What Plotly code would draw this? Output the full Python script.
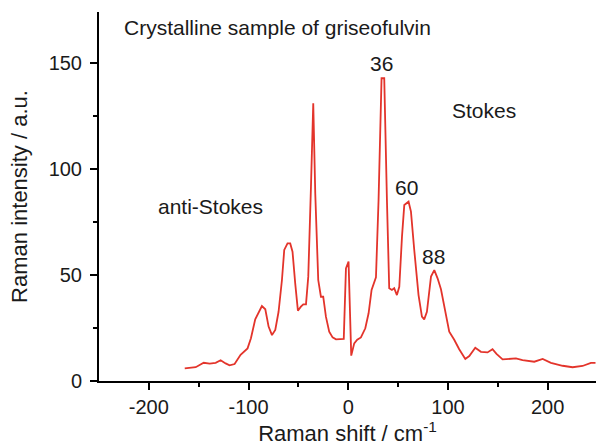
import plotly.graph_objects as go

# Raman shift (cm^-1) and intensity (a.u.)
shift = [-164, -153, -145, -139, -133, -128, -123, -119, -114, -108, -101, -97.6,
         -93.3, -89.3, -86.6, -83.2, -79.9, -76.5, -73.2, -69.9, -66.5, -64.2,
         -60.9, -58.2, -55.9, -53.2, -50.5, -47.5, -45.1, -42.4, -40.1, -37.4,
         -35.1, -33.1, -30.1, -27.4, -25.1, -22.4, -19.1, -15.7, -12.3, -4.5,
         -2.3, 0.3, 3.0, 6.0, 9.0, 12.7, 17.1, 20.4, 23.4, 27.8, 30.4, 33.4,
         36.1, 38.8, 41.1, 43.8, 46.1, 48.8, 51.2, 53.9, 56.2, 60.5, 62.9, 66.2,
         70.5, 73.9, 76.2, 78.9, 83.0, 86.3, 89.6, 93.0, 97.3, 101.3, 106.3,
         111.3, 117.4, 121.4, 127.4, 133.1, 139.7, 144.7, 148.7, 154.8, 168.2,
         174.8, 186.6, 195.0, 203.3, 215.0, 225.0, 235.0, 243.4, 248.0]
intensity = [6.0, 6.5, 8.6, 8.2, 8.6, 9.8, 8.3, 7.4, 8.0, 12.4, 15.4, 20.2,
             29.1, 32.7, 35.4, 33.9, 25.7, 21.7, 24.1, 32.7, 47.7, 61.9,
             65.0, 65.0, 61.1, 46.1, 33.2, 35.1, 36.2, 36.2, 49.3, 91.8,
             131.2, 88.7, 47.7, 39.8, 39.8, 30.4, 23.3, 20.6, 19.7, 19.9,
             53.2, 56.4, 12.0, 17.8, 19.5, 20.6, 24.9, 32.0, 43.0, 49.0, 85.5, 143.0,
             143.0, 85.5, 43.8, 43.0, 43.8, 40.6, 44.5, 68.2, 83.1, 84.7, 80.0, 61.9,
             40.6, 30.4, 29.1, 32.7, 49.3, 52.4, 48.5, 43.3, 32.0, 23.3, 19.5,
             15.0, 10.4, 11.8, 15.7, 13.8, 13.5, 15.0, 12.8, 10.2, 10.7,
             9.9, 9.1, 10.4, 8.6, 7.2, 6.5, 7.1, 8.6, 8.6]

x_tickvals = [-200, -100, 0, 100, 200]
x_ticktext = ["-200", "-100", "0", "100", "200"]
y_tickvals = [0, 50, 100, 150]
y_ticktext = ["0", "50", "100", "150"]

FONT = "Liberation Sans, Arial, Helvetica, sans-serif"

fig = go.Figure()
fig.add_trace(go.Scatter(x=shift, y=intensity, mode="lines",
                         line=dict(color="#e3342b", width=1.8),
                         showlegend=False, cliponaxis=False))

labels = [
    ("Crystalline sample of griseofulvin", -226.7, 167.2, "left"),
    ("36", 33.1, 150.2, "center"),
    ("Stokes", 102.3, 128.0, "left"),
    ("60", 58.2, 91.6, "center"),
    ("88", 85.3, 59.0, "center"),
    ("anti-Stokes", -192.6, 82.2, "left"),
]
for txt, xv, yv, anc in labels:
    fig.add_annotation(x=xv, y=yv, text=txt, showarrow=False, xanchor=anc,
                       yanchor="middle", font=dict(family=FONT, size=21, color="#1a1a1a"))

axis_common = dict(showgrid=False, zeroline=False, showline=True, linecolor="black",
                   linewidth=2, ticks="outside", ticklen=7, tickwidth=2, tickcolor="black",
                   tickfont=dict(family=FONT, size=20, color="#1a1a1a"),
                   title_font=dict(family=FONT, size=22, color="#1a1a1a"))

fig.update_xaxes(range=[-250, 248.5], tickvals=x_tickvals, ticktext=x_ticktext,
                 minor=dict(tickvals=[-150, -50, 50, 150], ticklen=4, tickwidth=2,
                            tickcolor="black", ticks="outside"),
                 title_text="Raman shift / cm<sup>-1</sup>", title_standoff=8,
                 **axis_common)
fig.update_yaxes(range=[0, 174.3], tickvals=y_tickvals, ticktext=y_ticktext,
                 minor=dict(tickvals=[25, 75, 125], ticklen=4, tickwidth=2,
                            tickcolor="black", ticks="outside"),
                 title_text="Raman intensity / a.u.", ticklabelstandoff=4,
                 **axis_common)

fig.update_layout(width=596, height=447, margin=dict(l=99, r=0, t=12, b=66),
                  plot_bgcolor="white", paper_bgcolor="white")

fig.write_html("out.html")
